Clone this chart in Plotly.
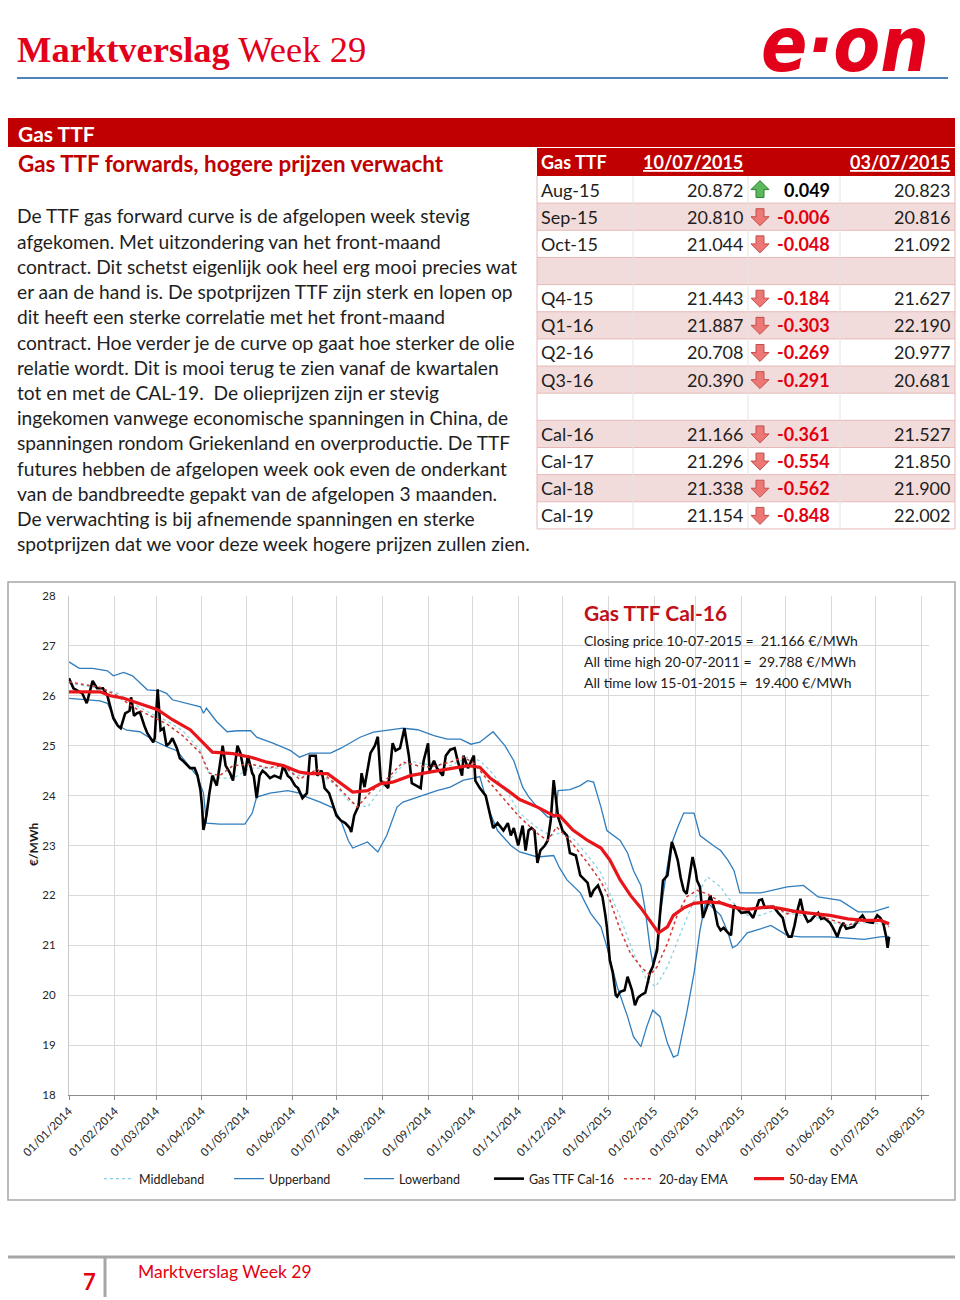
import plotly.graph_objects as go

W, H = 960, 1300


def X(px):
    return px / W


def Y(py):
    return 1 - py / H


# ------------------------------------------------------------------ data
price_dates = [
    "2014-01-01", "2014-01-04", "2014-01-07", "2014-01-10", "2014-01-13", "2014-01-17", "2014-01-20",
    "2014-01-24", "2014-01-27", "2014-01-31", "2014-02-03", "2014-02-05", "2014-02-08", "2014-02-11",
    "2014-02-12", "2014-02-14", "2014-02-16", "2014-02-18", "2014-02-21", "2014-02-23", "2014-02-27",
    "2014-02-28", "2014-03-02", "2014-03-04", "2014-03-06", "2014-03-08", "2014-03-10", "2014-03-12",
    "2014-03-15", "2014-03-17", "2014-03-19", "2014-03-22", "2014-03-24", "2014-03-27", "2014-03-29",
    "2014-03-31", "2014-04-01", "2014-04-02", "2014-04-04", "2014-04-06", "2014-04-08", "2014-04-11",
    "2014-04-13", "2014-04-15", "2014-04-17", "2014-04-20", "2014-04-22", "2014-04-25", "2014-04-27",
    "2014-04-30", "2014-05-02", "2014-05-05", "2014-05-06", "2014-05-08", "2014-05-10", "2014-05-12",
    "2014-05-14", "2014-05-17", "2014-05-20", "2014-05-24", "2014-05-26", "2014-05-29", "2014-05-31",
    "2014-06-03", "2014-06-05", "2014-06-08", "2014-06-11", "2014-06-13", "2014-06-17", "2014-06-18",
    "2014-06-21", "2014-06-23", "2014-06-26", "2014-06-29", "2014-07-01", "2014-07-04", "2014-07-07",
    "2014-07-10", "2014-07-11", "2014-07-13", "2014-07-16", "2014-07-18", "2014-07-20", "2014-07-24",
    "2014-07-27", "2014-07-29", "2014-07-31", "2014-08-02", "2014-08-05", "2014-08-08", "2014-08-10",
    "2014-08-13", "2014-08-16", "2014-08-19", "2014-08-21", "2014-08-24", "2014-08-27", "2014-08-29",
    "2014-09-01", "2014-09-02", "2014-09-05", "2014-09-07", "2014-09-11", "2014-09-13", "2014-09-16",
    "2014-09-19", "2014-09-21", "2014-09-24", "2014-09-25", "2014-09-28", "2014-10-02", "2014-10-03",
    "2014-10-06", "2014-10-10", "2014-10-13", "2014-10-15", "2014-10-18", "2014-10-22", "2014-10-25",
    "2014-10-27", "2014-10-29", "2014-11-01", "2014-11-04", "2014-11-06", "2014-11-08", "2014-11-10",
    "2014-11-12", "2014-11-14", "2014-11-16", "2014-11-19", "2014-11-21", "2014-11-23", "2014-11-25",
    "2014-11-28", "2014-12-01", "2014-12-04", "2014-12-06", "2014-12-10", "2014-12-13", "2014-12-16",
    "2014-12-18", "2014-12-20", "2014-12-22", "2014-12-25", "2014-12-28", "2014-12-30", "2014-12-31",
    "2015-01-02", "2015-01-04", "2015-01-06", "2015-01-07", "2015-01-09", "2015-01-12", "2015-01-14",
    "2015-01-16", "2015-01-17", "2015-01-19", "2015-01-21", "2015-01-23", "2015-01-26", "2015-01-28",
    "2015-01-29", "2015-01-31", "2015-02-03", "2015-02-05", "2015-02-07", "2015-02-10", "2015-02-13",
    "2015-02-15", "2015-02-17", "2015-02-19", "2015-02-21", "2015-02-23", "2015-02-25", "2015-02-27",
    "2015-03-01", "2015-03-02", "2015-03-04", "2015-03-06", "2015-03-09", "2015-03-11", "2015-03-14",
    "2015-03-16", "2015-03-18", "2015-03-20", "2015-03-23", "2015-03-25", "2015-03-27", "2015-03-29",
    "2015-04-01", "2015-04-04", "2015-04-06", "2015-04-09", "2015-04-11", "2015-04-13", "2015-04-15",
    "2015-04-17", "2015-04-21", "2015-04-23", "2015-04-26", "2015-04-29", "2015-05-01", "2015-05-03",
    "2015-05-05", "2015-05-07", "2015-05-09", "2015-05-11", "2015-05-13", "2015-05-16", "2015-05-18",
    "2015-05-20", "2015-05-23", "2015-05-25", "2015-05-27", "2015-05-29", "2015-05-31", "2015-06-02",
    "2015-06-05", "2015-06-07", "2015-06-09", "2015-06-11", "2015-06-14", "2015-06-16", "2015-06-19",
    "2015-06-22", "2015-06-24", "2015-06-25", "2015-06-29", "2015-07-02", "2015-07-04", "2015-07-06",
    "2015-07-08", "2015-07-09", "2015-07-10",
]
price_vals = [
    26.35, 26.15, 26.10, 26.05, 25.85, 26.30, 26.15,
    26.15, 26.00, 25.55, 25.40, 25.35, 25.65, 25.70,
    25.97, 25.60, 25.65, 25.67, 25.40, 25.25, 25.07,
    25.15, 26.13, 25.31, 25.35, 25.00, 25.05, 25.15,
    24.95, 24.75, 24.70, 24.60, 24.55, 24.55, 24.40,
    24.10, 23.80, 23.31, 23.60, 24.05, 24.40, 24.20,
    24.60, 25.00, 24.60, 24.45, 24.30, 25.00, 24.85,
    24.40, 24.80, 24.45, 24.40, 23.95, 24.40, 24.50,
    24.45, 24.35, 24.40, 24.35, 24.60, 24.40, 24.35,
    24.20, 24.15, 23.95, 24.05, 24.80, 24.80, 24.40,
    24.50, 24.15, 24.05, 23.75, 23.60, 23.50, 23.45,
    23.35, 23.27, 23.60, 23.80, 24.45, 24.17, 24.85,
    25.00, 25.18, 24.30, 24.25, 24.15, 25.05, 24.90,
    24.95, 25.35, 24.80, 24.25, 24.20, 24.15, 24.70,
    25.05, 24.50, 24.70, 24.55, 24.40, 24.80, 24.92,
    24.95, 24.70, 24.40, 24.80, 24.55, 24.80, 24.30,
    24.15, 24.00, 23.60, 23.35, 23.45, 23.30, 23.45,
    23.20, 23.35, 23.00, 23.40, 22.90, 23.30, 23.35,
    23.30, 22.65, 22.90, 23.00, 23.10, 23.50, 24.31,
    23.57, 23.30, 23.20, 22.85, 22.80, 22.40, 22.30,
    22.25, 21.97, 22.10, 22.20, 21.97, 21.60, 21.37,
    20.70, 20.45, 20.00, 19.97, 20.07, 20.10, 20.37,
    20.20, 20.10, 19.80, 19.95, 20.00, 20.05, 20.30,
    20.44, 20.57, 20.90, 21.64, 22.30, 22.40, 23.07,
    22.90, 22.70, 22.35, 22.10, 22.03, 22.40, 22.77,
    22.50, 22.30, 22.17, 21.55, 21.80, 22.00, 21.70,
    21.40, 21.30, 21.35, 21.25, 21.20, 21.80, 21.75,
    21.65, 21.67, 21.67, 21.55, 21.75, 21.90, 21.92,
    21.75, 21.77, 21.77, 21.65, 21.55, 21.30, 21.17,
    21.17, 21.40, 21.70, 21.93, 21.65, 21.47, 21.50,
    21.57, 21.65, 21.53, 21.55, 21.50, 21.45, 21.35,
    21.17, 21.35, 21.45, 21.33, 21.35, 21.37, 21.50,
    21.60, 21.50, 21.47, 21.45, 21.60, 21.55, 21.45,
    21.17, 20.95, 21.17,
]

ema50_dates = [
    "2014-01-01", "2014-01-22", "2014-01-29", "2014-02-07", "2014-02-18", "2014-03-02", "2014-03-12",
    "2014-03-24", "2014-04-02", "2014-04-08", "2014-04-22", "2014-05-04", "2014-05-15", "2014-05-26",
    "2014-06-06", "2014-06-13", "2014-06-25", "2014-07-04", "2014-07-12", "2014-07-22", "2014-07-31",
    "2014-08-08", "2014-08-20", "2014-09-02", "2014-09-16", "2014-09-28", "2014-10-06", "2014-10-13",
    "2014-10-25", "2014-11-02", "2014-11-14", "2014-11-25", "2014-11-29", "2014-12-08", "2014-12-18",
    "2014-12-27", "2015-01-02", "2015-01-09", "2015-01-16", "2015-01-23", "2015-01-29", "2015-02-04",
    "2015-02-10", "2015-02-14", "2015-02-21", "2015-02-28", "2015-03-09", "2015-03-18", "2015-03-27",
    "2015-04-05", "2015-04-19", "2015-04-27", "2015-05-09", "2015-05-20", "2015-05-31", "2015-06-12",
    "2015-06-23", "2015-07-04", "2015-07-10",
]
ema50_vals = [
    26.08, 26.08, 26.00, 25.95, 25.84, 25.72, 25.52,
    25.32, 25.05, 24.87, 24.84, 24.77, 24.67, 24.60,
    24.47, 24.44, 24.44, 24.24, 24.07, 24.10, 24.24,
    24.27, 24.40, 24.47, 24.54, 24.60, 24.57, 24.35,
    24.10, 23.92, 23.77, 23.60, 23.60, 23.31, 23.10,
    22.95, 22.71, 22.31, 22.00, 21.75, 21.50, 21.25,
    21.37, 21.60, 21.75, 21.84, 21.87, 21.85, 21.76,
    21.72, 21.77, 21.74, 21.67, 21.63, 21.60, 21.53,
    21.50, 21.50, 21.43,
]

ema20_dates = [
    "2014-01-01", "2014-01-22", "2014-02-03", "2014-02-13", "2014-02-25", "2014-03-08", "2014-03-19",
    "2014-03-31", "2014-04-06", "2014-04-13", "2014-04-22", "2014-05-04", "2014-05-15", "2014-05-26",
    "2014-06-06", "2014-06-18", "2014-06-29", "2014-07-08", "2014-07-15", "2014-07-24", "2014-08-04",
    "2014-08-15", "2014-08-25", "2014-09-02", "2014-09-16", "2014-09-25", "2014-10-02", "2014-10-13",
    "2014-10-25", "2014-11-02", "2014-11-14", "2014-11-21", "2014-11-27", "2014-12-06", "2014-12-18",
    "2014-12-27", "2015-01-02", "2015-01-09", "2015-01-16", "2015-01-23", "2015-01-29", "2015-02-03",
    "2015-02-10", "2015-02-17", "2015-02-23", "2015-03-02", "2015-03-09", "2015-03-18", "2015-03-31",
    "2015-04-14", "2015-04-23", "2015-05-02", "2015-05-11", "2015-05-23", "2015-06-02", "2015-06-12",
    "2015-06-21", "2015-06-29", "2015-07-06", "2015-07-10",
]
ema20_vals = [
    26.28, 26.17, 26.00, 25.78, 25.60, 25.44, 25.20,
    24.85, 24.45, 24.40, 24.60, 24.63, 24.56, 24.60,
    24.33, 24.53, 24.27, 24.00, 23.77, 24.07, 24.33,
    24.67, 24.60, 24.57, 24.67, 24.77, 24.65, 24.25,
    23.85, 23.57, 23.24, 23.10, 23.37, 23.10, 22.65,
    22.28, 21.91, 21.31, 20.84, 20.57, 20.40, 20.57,
    21.04, 21.64, 21.97, 22.10, 22.03, 21.87, 21.74,
    21.74, 21.80, 21.63, 21.70, 21.60, 21.50, 21.40,
    21.50, 21.50, 21.47, 21.37,
]

mid_dates = [
    "2014-01-01", "2014-01-22", "2014-02-03", "2014-02-13", "2014-02-25", "2014-03-08", "2014-03-19",
    "2014-03-31", "2014-04-04", "2014-04-11", "2014-04-22", "2014-05-04", "2014-05-15", "2014-05-26",
    "2014-06-06", "2014-06-18", "2014-06-29", "2014-07-10", "2014-07-22", "2014-08-02", "2014-08-18",
    "2014-08-27", "2014-09-05", "2014-09-16", "2014-09-28", "2014-10-06", "2014-10-13", "2014-10-25",
    "2014-11-02", "2014-11-14", "2014-11-23", "2014-11-29", "2014-12-08", "2014-12-18", "2014-12-27",
    "2014-12-31", "2015-01-09", "2015-01-18", "2015-01-27", "2015-02-02", "2015-02-10", "2015-02-19",
    "2015-02-28", "2015-03-09", "2015-03-18", "2015-03-23", "2015-04-05", "2015-04-14", "2015-04-23",
    "2015-05-02", "2015-05-11", "2015-05-23", "2015-06-02", "2015-06-12", "2015-06-21", "2015-06-29",
    "2015-07-10",
]
mid_vals = [
    26.25, 26.15, 26.05, 25.85, 25.65, 25.50, 25.30,
    24.90, 24.50, 24.35, 24.35, 24.55, 24.55, 24.55,
    24.40, 24.45, 24.25, 23.87, 23.77, 24.20, 24.70,
    24.65, 24.60, 24.60, 24.77, 24.70, 24.50, 24.05,
    23.65, 23.35, 23.20, 23.25, 23.15, 22.80, 22.45,
    22.17, 21.57, 20.84, 20.30, 20.17, 20.57, 21.25,
    21.90, 22.37, 22.17, 21.95, 21.60, 21.60, 21.70,
    21.65, 21.60, 21.55, 21.45, 21.40, 21.45, 21.45,
    21.40,
]

upper_dates = [
    "2014-01-01", "2014-01-08", "2014-01-17", "2014-01-27", "2014-01-31", "2014-02-07", "2014-02-13",
    "2014-02-18", "2014-02-23", "2014-03-04", "2014-03-08", "2014-03-12", "2014-03-22", "2014-03-31",
    "2014-04-02", "2014-04-04", "2014-04-11", "2014-04-18", "2014-04-25", "2014-05-04", "2014-05-08",
    "2014-05-19", "2014-05-31", "2014-06-06", "2014-06-13", "2014-06-27", "2014-07-04", "2014-07-10",
    "2014-07-17", "2014-07-26", "2014-08-04", "2014-08-15", "2014-08-25", "2014-09-05", "2014-09-14",
    "2014-09-23", "2014-09-30", "2014-10-06", "2014-10-15", "2014-10-23", "2014-10-29", "2014-11-04",
    "2014-11-08", "2014-11-13", "2014-11-21", "2014-11-26", "2014-11-28", "2014-12-06", "2014-12-13",
    "2014-12-18", "2014-12-22", "2014-12-27", "2014-12-31", "2015-01-09", "2015-01-14", "2015-01-18",
    "2015-01-23", "2015-01-26", "2015-01-29", "2015-01-31", "2015-02-03", "2015-02-05", "2015-02-09",
    "2015-02-12", "2015-02-17", "2015-02-21", "2015-02-28", "2015-03-04", "2015-03-13", "2015-03-18",
    "2015-03-23", "2015-03-27", "2015-03-31", "2015-04-14", "2015-05-02", "2015-05-13", "2015-05-23",
    "2015-06-07", "2015-06-19", "2015-06-29", "2015-07-10",
]
upper_vals = [
    26.68, 26.55, 26.55, 26.50, 26.40, 26.47, 26.40,
    26.25, 26.12, 26.10, 26.05, 25.92, 25.85, 25.78,
    25.65, 25.75, 25.48, 25.28, 25.30, 25.30, 25.17,
    25.05, 24.90, 24.77, 24.85, 24.85, 24.95, 25.05,
    25.17, 25.27, 25.30, 25.35, 25.32, 25.20, 25.13,
    25.13, 25.03, 25.07, 25.28, 25.00, 24.70, 24.17,
    23.98, 23.80, 23.57, 23.57, 24.10, 24.12, 24.20,
    24.30, 24.27, 23.77, 23.30, 23.10, 22.85, 22.50,
    22.20, 21.70, 21.00, 20.64, 21.00, 21.60, 22.40,
    22.97, 23.37, 23.65, 23.65, 23.20, 23.00, 22.90,
    22.70, 22.50, 22.05, 22.05, 22.17, 22.20, 21.97,
    21.90, 21.67, 21.67, 21.77,
]

lower_dates = [
    "2014-01-01", "2014-01-13", "2014-01-22", "2014-01-27", "2014-02-03", "2014-02-09", "2014-02-18",
    "2014-02-27", "2014-03-08", "2014-03-15", "2014-03-22", "2014-03-29", "2014-04-02", "2014-04-04",
    "2014-04-13", "2014-04-22", "2014-04-30", "2014-05-05", "2014-05-08", "2014-05-17", "2014-05-29",
    "2014-06-06", "2014-06-11", "2014-06-20", "2014-06-29", "2014-07-04", "2014-07-09", "2014-07-12",
    "2014-07-22", "2014-07-29", "2014-08-04", "2014-08-11", "2014-08-15", "2014-08-25", "2014-09-07",
    "2014-09-16", "2014-09-25", "2014-10-02", "2014-10-06", "2014-10-13", "2014-10-18", "2014-10-27",
    "2014-11-02", "2014-11-14", "2014-11-25", "2014-11-29", "2014-12-04", "2014-12-13", "2014-12-20",
    "2014-12-27", "2014-12-31", "2015-01-07", "2015-01-14", "2015-01-18", "2015-01-23", "2015-01-27",
    "2015-01-31", "2015-02-05", "2015-02-10", "2015-02-14", "2015-02-17", "2015-02-23", "2015-02-28",
    "2015-03-04", "2015-03-08", "2015-03-11", "2015-03-18", "2015-03-23", "2015-03-26", "2015-03-29",
    "2015-04-05", "2015-04-14", "2015-04-21", "2015-05-02", "2015-05-11", "2015-05-31", "2015-06-12",
    "2015-06-23", "2015-07-04", "2015-07-10",
]
lower_vals = [
    25.95, 25.92, 25.90, 25.85, 25.41, 25.31, 25.28,
    25.11, 24.98, 24.90, 24.65, 24.38, 24.05, 23.45,
    23.43, 23.43, 23.43, 23.65, 23.97, 24.05, 24.10,
    24.05, 23.97, 23.87, 23.75, 23.50, 23.10, 22.95,
    23.07, 22.87, 23.20, 23.77, 23.87, 23.97, 24.10,
    24.17, 24.31, 24.35, 24.38, 23.65, 23.30, 23.00,
    22.87, 22.77, 22.80, 22.55, 22.31, 22.05, 21.64,
    21.37, 20.97, 20.17, 19.57, 19.17, 18.97, 19.37,
    19.70, 19.57, 19.04, 18.76, 18.80, 19.64, 20.44,
    21.30, 21.90, 21.80, 21.60, 21.25, 20.95, 21.00,
    21.25, 21.33, 21.40, 21.20, 21.17, 21.17, 21.14,
    21.12, 21.17, 21.18,
]

# table
table_header = ["Gas TTF", "10/07/2015", "03/07/2015"]
contracts = ["Aug-15", "Sep-15", "Oct-15", "", "Q4-15", "Q1-16", "Q2-16", "Q3-16", "",
             "Cal-16", "Cal-17", "Cal-18", "Cal-19"]
price_now = [20.872, 20.810, 21.044, None, 21.443, 21.887, 20.708, 20.390, None,
             21.166, 21.296, 21.338, 21.154]
price_change = [0.049, -0.006, -0.048, None, -0.184, -0.303, -0.269, -0.291, None,
                -0.361, -0.554, -0.562, -0.848]
price_prev = [20.823, 20.816, 21.092, None, 21.627, 22.190, 20.977, 20.681, None,
              21.527, 21.850, 21.900, 22.002]

body_lines = [
    "De TTF gas forward curve is de afgelopen week stevig",
    "afgekomen. Met uitzondering van het front-maand",
    "contract. Dit schetst eigenlijk ook heel erg mooi precies wat",
    "er aan de hand is. De spotprijzen TTF zijn sterk en lopen op",
    "dit heeft een sterke correlatie met het front-maand",
    "contract. Hoe verder je de curve op gaat hoe sterker de olie",
    "relatie wordt. Dit is mooi terug te zien vanaf de kwartalen",
    "tot en met de CAL-19.  De olieprijzen zijn er stevig",
    "ingekomen vanwege economische spanningen in China, de",
    "spanningen rondom Griekenland en overproductie. De TTF",
    "futures hebben de afgelopen week ook even de onderkant",
    "van de bandbreedte gepakt van de afgelopen 3 maanden.",
    "De verwachting is bij afnemende spanningen en sterke",
    "spotprijzen dat we voor deze week hogere prijzen zullen zien.",
]

info_title = "Gas TTF Cal-16"
info_lines = [
    "Closing price 10-07-2015 =  21.166 €/MWh",
    "All time high 20-07-2011 =  29.788 €/MWh",
    "All time low 15-01-2015 =  19.400 €/MWh",
]

# ------------------------------------------------------------------ styles
RED = "#c00000"
EON_RED = "#e2001a"
TXT = "#1e1e1e"
FONT = "Lato"

fig = go.Figure()

fig.add_trace(go.Scatter(x=mid_dates, y=mid_vals, name="Middleband", mode="lines",
                         line=dict(color="#86d0e2", width=1.2, dash="dot")))
fig.add_trace(go.Scatter(x=upper_dates, y=upper_vals, name="Upperband", mode="lines",
                         line=dict(color="#2f7dbd", width=1.3)))
fig.add_trace(go.Scatter(x=lower_dates, y=lower_vals, name="Lowerband", mode="lines",
                         line=dict(color="#2f7dbd", width=1.3)))
fig.add_trace(go.Scatter(x=price_dates, y=price_vals, name="Gas TTF Cal-16", mode="lines",
                         line=dict(color="#000000", width=2.6)))
fig.add_trace(go.Scatter(x=ema20_dates, y=ema20_vals, name="20-day EMA", mode="lines",
                         line=dict(color="#d03a35", width=1.5, dash="dot")))
fig.add_trace(go.Scatter(x=ema50_dates, y=ema50_vals, name="50-day EMA", mode="lines",
                         line=dict(color="#e8161b", width=3.2)))

shapes = []
annotations = []


def rect(x0, y0, x1, y1, fill, line_color=None, lw=0):
    shapes.append(dict(type="rect", xref="paper", yref="paper", x0=X(x0), x1=X(x1), y0=Y(y1), y1=Y(y0),
                       fillcolor=fill, line=dict(color=line_color or fill, width=lw), layer="below"))


def hline(x0, x1, y, color, w=1, layer="above"):
    shapes.append(dict(type="line", xref="paper", yref="paper", x0=X(x0), x1=X(x1), y0=Y(y), y1=Y(y),
                       line=dict(color=color, width=w), layer=layer))


def vline(x, y0, y1, color, w=1, layer="above"):
    shapes.append(dict(type="line", xref="paper", yref="paper", x0=X(x), x1=X(x), y0=Y(y0), y1=Y(y1),
                       line=dict(color=color, width=w), layer=layer))


def text(x, y, s, size, color=TXT, anchor="left", bold=False, family=FONT, **kw):
    annotations.append(dict(xref="paper", yref="paper", x=X(x), y=Y(y), text=s, showarrow=False,
                            xanchor=anchor, yanchor="middle",
                            font=dict(size=size, color=color, family=family,
                                      weight="bold" if bold else "normal"), **kw))


def arrow(cx, cy, up):
    if up:
        pts = [(cx - 4, cy + 8), (cx + 4, cy + 8), (cx + 4, cy), (cx + 9, cy), (cx, cy - 9),
               (cx - 9, cy), (cx - 4, cy)]
        fill, lc = "#5cb85c", "#2e7d32"
    else:
        pts = [(cx - 4, cy - 8), (cx + 4, cy - 8), (cx + 4, cy), (cx + 9, cy), (cx, cy + 9),
               (cx - 9, cy), (cx - 4, cy)]
        fill, lc = "#ec7774", "#c0504d"
    path = "M " + " L ".join(f"{X(a):.5f},{Y(b):.5f}" for a, b in pts) + " Z"
    shapes.append(dict(type="path", xref="paper", yref="paper", path=path, fillcolor=fill,
                       line=dict(color=lc, width=1), layer="above"))


# ---- page header
text(15, 50, "<b>Marktverslag</b> Week 29", 36.5, color=EON_RED, family="Liberation Serif")
annotations.append(dict(xref="paper", yref="paper", x=X(845), y=Y(45), text="e·on", showarrow=False,
                        xanchor="center", yanchor="middle",
                        font=dict(size=76, color=EON_RED, family="DejaVu Sans Condensed",
                                  weight="bold", style="italic")))
hline(17, 948, 78, "#4f81bd", 2)

# ---- red band
rect(8, 118, 955, 147, RED)
text(16, 133, "<b>Gas TTF</b>", 21, color="white")
text(16, 163, "<b>Gas TTF forwards, hogere prijzen verwacht</b>", 22.4, color=RED)

# ---- body text
for i, line in enumerate(body_lines):
    text(15, 216 + i * 25.2, line, 19.2)

# ---- table
TX0, TX1 = 537, 955
rect(TX0, 148, TX1, 176, RED)
text(539, 162, f"<b>{table_header[0]}</b>", 18, color="white")
text(745, 162, f"<b><u>{table_header[1]}</u></b>", 18, color="white", anchor="right")
text(952, 162, f"<b><u>{table_header[2]}</u></b>", 18, color="white", anchor="right")

row_top, row_h = 176, 27.15
for i, c in enumerate(contracts):
    y0 = row_top + i * row_h
    y1 = y0 + row_h
    cy = (y0 + y1) / 2
    rect(TX0, y0, TX1, y1, "#f2dcdb" if i % 2 == 1 else "#ffffff")
    hline(TX0, TX1, y1, "#e6b8b7", 1)
    if c:
        text(539, cy, c, 18)
        text(745, cy, f"{price_now[i]:.3f}", 18, anchor="right")
        ch = price_change[i]
        text(832, cy, f"<b>{ch:.3f}</b>", 18, color="#000000" if ch > 0 else "#e3000f", anchor="right")
        text(952, cy, f"{price_prev[i]:.3f}", 18, anchor="right")
        arrow(760, cy, ch > 0)
for xv in (633, 748, 840):
    vline(xv, row_top, row_top + row_h * len(contracts), "#e4e4e4", 1)
vline(TX0, row_top, row_top + row_h * len(contracts), "#e6b8b7", 1)
vline(TX1, row_top, row_top + row_h * len(contracts), "#e6b8b7", 1)

# ---- chart frame and texts
shapes.append(dict(type="rect", xref="paper", yref="paper", x0=X(8), x1=X(955), y0=Y(1200), y1=Y(582),
                   line=dict(color="#a6a6a6", width=1.5), fillcolor="rgba(0,0,0,0)", layer="below"))
text(582, 612, f"<b>{info_title}</b>", 21, color="#c0101a")
for i, line in enumerate(info_lines):
    text(582, 640 + i * 21.5, line, 14, color="#1a1a1a")
annotations.append(dict(xref="paper", yref="paper", x=X(33), y=Y(845), text="<b>€/MWh</b>", showarrow=False,
                        textangle=-90, xanchor="center", yanchor="middle",
                        font=dict(size=12, color="#1a1a1a", family=FONT)))

# ---- footer
hline(8, 955, 1257, "#a6a6a6", 3)
vline(105, 1257, 1297, "#a6a6a6", 3)
text(89, 1281, "<b>7</b>", 22, color="#e3000f", anchor="center")
text(136, 1271, "Marktverslag Week 29", 17.5, color="#e3000f")

fig.update_layout(
    width=W, height=H, autosize=False,
    margin=dict(l=0, r=0, t=0, b=0, pad=0, autoexpand=False),
    paper_bgcolor="white", plot_bgcolor="white",
    font=dict(family=FONT, color=TXT),
    shapes=shapes, annotations=annotations,
    xaxis=dict(domain=[X(69), X(929)], type="date", range=["2014-01-01", "2015-08-06"],
               dtick="M1", tick0="2014-01-01", tickformat="%d/%m/%Y", tickangle=-45,
               showgrid=True, gridcolor="#d9d9d9", gridwidth=1,
               showline=True, linecolor="#8c8c8c", linewidth=1,
               ticks="outside", ticklen=4, tickcolor="#8c8c8c", automargin=False,
               tickfont=dict(size=11.5, color="#262626"), zeroline=False, fixedrange=True),
    yaxis=dict(domain=[Y(1095), Y(596)], range=[18, 28], dtick=1, automargin=False,
               showgrid=True, gridcolor="#d9d9d9", gridwidth=1,
               showline=True, linecolor="#c8c8c8", ticks="", ticklabelstandoff=10,
               tickfont=dict(size=11.5, color="#262626"), zeroline=False, fixedrange=True),
    showlegend=True,
    legend=dict(orientation="h", x=X(99), y=Y(1164), xanchor="left", yanchor="top",
                font=dict(size=12.5, color="#1a1a1a", family=FONT),
                bgcolor="rgba(0,0,0,0)", entrywidth=85, entrywidthmode="pixels",
                itemwidth=30, tracegroupgap=0),
)

fig.write_html("out.html", config={"displayModeBar": False},
               post_script="document.body.style.margin='0';document.body.style.padding='0';")
